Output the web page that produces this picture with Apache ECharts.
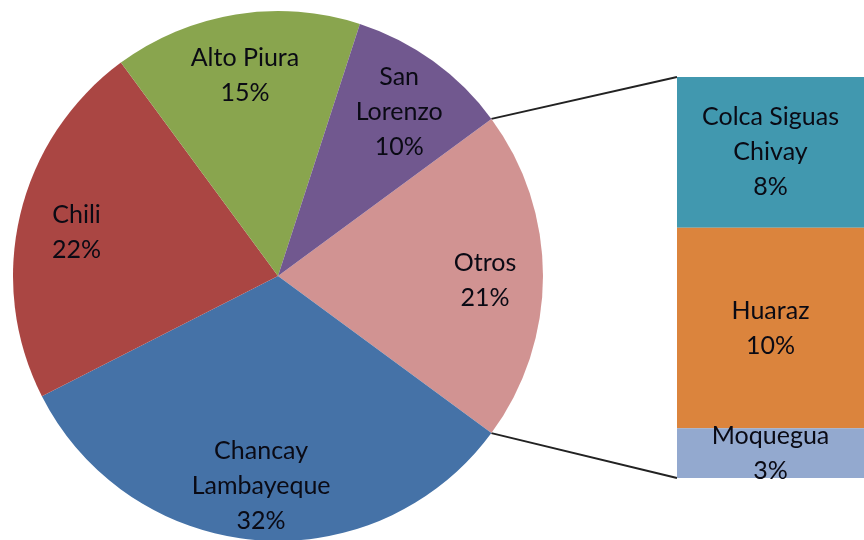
<!DOCTYPE html>
<html>
<head>
<meta charset="utf-8">
<script src="https://cdn.jsdelivr.net/npm/echarts@6/dist/echarts.min.js"></script>
<style>
	html, body { margin: 0; padding: 0; background: #fff; }
	#main { width: 864px; height: 540px; }
</style>
</head>
<body>
<div id="main"></div>
<script>
// pie slices, clockwise starting with "Otros"
let pieNames = ['Otros', 'Chancay\nLambayeque', 'Chili', 'Alto Piura', 'San\nLorenzo']
let pieValues = [20.2, 32.4, 22.4, 15.1, 9.9]
let pieShares = ['21%', '32%', '22%', '15%', '10%']
let pieColors = ['#D19392', '#4572A7', '#AA4643', '#89A54E', '#71588F']

// breakdown of "Otros", top to bottom
let barNames = ['Colca Siguas\nChivay', 'Huaraz', 'Moquegua']
let barValues = [7.6, 10.1, 2.5]
let barShares = ['8%', '10%', '3%']
let barColors = ['#4198AF', '#DB843D', '#93A9CF']

// layout
let cx = 278, cy = 276, r = 265
let barLeft = 677, barTop = 77, barW = 204, barH = 401

let labelFont = {
	color: '#0a0a14',
	fontFamily: 'Lato, "Open Sans", sans-serif',
	fontSize: 25,
	lineHeight: 35
}

let total = pieValues.reduce((a, b) => a + b, 0)
let startAngle = pieValues[0] / total * 180 // centre "Otros" on the right

let pieData = pieNames.map((n, i) => ({
	name: n,
	value: pieValues[i],
	itemStyle: { color: pieColors[i] }
}))

let barSeries = barNames.map((n, i) => ({
	type: 'bar',
	name: n,
	stack: 'otros',
	barWidth: '100%',
	data: [barValues[i]],
	itemStyle: { color: barColors[i] },
	label: {
		show: true,
		position: 'inside',
		formatter: () => n + '\n' + barShares[i],
		...labelFont
	}
}))

// lines from the edge of "Otros" to the corners of the bar
let a = startAngle * Math.PI / 180
let p1 = [cx + r * Math.cos(a), cy - r * Math.sin(a)]
let p2 = [cx + r * Math.cos(a), cy + r * Math.sin(a)]

let option = {
	animation: false,
	grid: { left: barLeft, top: barTop, width: barW, height: barH },
	xAxis: { type: 'category', data: ['Otros'], show: false },
	yAxis: { type: 'value', min: 0, max: pieValues[0], inverse: true, show: false },
	graphic: [
		{ type: 'line', shape: { x1: p1[0], y1: p1[1], x2: barLeft, y2: barTop }, style: { stroke: '#222', lineWidth: 2 } },
		{ type: 'line', shape: { x1: p2[0], y1: p2[1], x2: barLeft, y2: barTop + barH }, style: { stroke: '#222', lineWidth: 2 } }
	],
	series: [
		{
			type: 'pie',
			center: [cx, cy],
			radius: r,
			startAngle: startAngle,
			clockwise: true,
			silent: true,
			label: { show: false },
			labelLine: { show: false },
			data: pieData
		},
		{
			// transparent ring, only used to place the labels further out
			type: 'pie',
			center: [cx, cy],
			radius: [r * 0.54, r],
			startAngle: startAngle,
			clockwise: true,
			silent: true,
			z: 3,
			itemStyle: { color: 'transparent' },
			label: {
				show: true,
				position: 'inside',
				formatter: (p) => p.name + '\n' + pieShares[p.dataIndex],
				...labelFont
			},
			labelLayout: { dy: 4 },
			labelLine: { show: false },
			data: pieNames.map((n, i) => ({ name: n, value: pieValues[i] }))
		},
		...barSeries
	]
}

let myChart = echarts.init(document.getElementById('main'))
myChart.setOption(option)
</script>
</body>
</html>
